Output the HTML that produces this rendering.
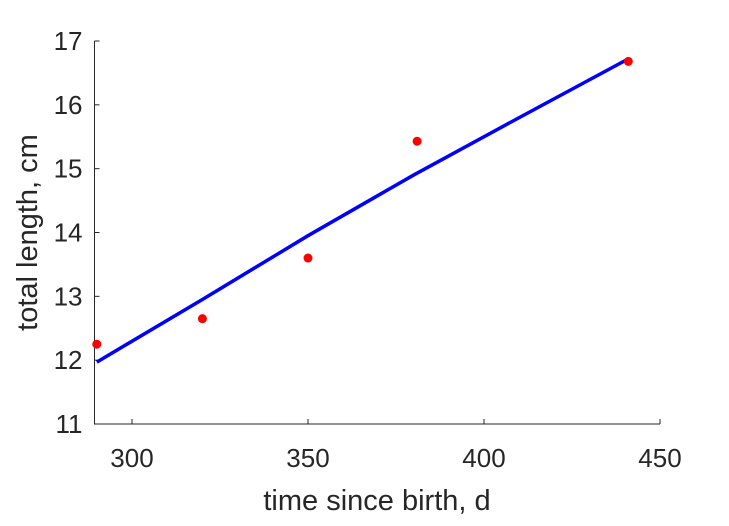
<!DOCTYPE html>
<html><head><meta charset="utf-8"><style>
body{margin:0;background:#fff}
svg text{font-family:"Liberation Sans",sans-serif;fill:#262626}
</style></head><body>
<svg width="729" height="521">
<g id="axes"></g><g id="plot"></g>
</svg>
<script>
const xTicks=[300,350,400,450];
const yTicks=[11,12,13,14,15,16,17];
const dataX=[290,320,350,381,441];
const dataY=[12.25,12.65,13.6,15.43,16.68];
const fitX=[290,320,350,380,410,441];
const fitY=[11.97,12.95,13.95,14.9,15.8,16.72];
const xmin=289.35,xmax=450,ymin=11,ymax=17;
const L=94.5,R=660,B=424,T=41;
const sx=v=>L+(v-xmin)/(xmax-xmin)*(R-L);
const sy=v=>B-(v-ymin)/(ymax-ymin)*(B-T);
const NS='http://www.w3.org/2000/svg';
const ax=document.getElementById('axes'),pl=document.getElementById('plot');
function mk(tag,at,parent){const e=document.createElementNS(NS,tag);for(const k in at)e.setAttribute(k,at[k]);parent.appendChild(e);return e;}
let e=mk('path',{d:`M${L},${T}V${B}H${R}`,stroke:'#262626','stroke-width':1,fill:'none'},ax);


xTicks.forEach(v=>{const x=sx(v);
 let t=mk('line',{x1:x,x2:x,y1:B,y2:B-5,stroke:'#262626'},ax);
 
 
 let l=mk('text',{x:x,y:B+43,'text-anchor':'middle','font-size':26},ax);l.textContent=v;
 
 });
yTicks.forEach(v=>{const y=sy(v);
 let t=mk('line',{x1:L,x2:L+5,y1:y,y2:y,stroke:'#262626'},ax);
 
 
 let l=mk('text',{x:L-12,y:y+9,'text-anchor':'end','font-size':26},ax);l.textContent=v;
 
 });
let xt=mk('text',{x:377,y:510,'text-anchor':'middle','font-size':29},ax);xt.textContent='time since birth, d';


let yt=mk('text',{x:0,y:0,'text-anchor':'middle','font-size':29,transform:`translate(37,${(T+B)/2}) rotate(-90)`},ax);yt.textContent='total length, cm';


let ln=mk('polyline',{points:fitX.map((x,i)=>sx(x)+','+sy(fitY[i])).join(' '),stroke:'#0000ff','stroke-width':3.5,fill:'none'},pl);


dataX.forEach((x,i)=>{let c=mk('circle',{cx:sx(x),cy:sy(dataY[i]),r:4.5,fill:'#ff0000'},pl);
 
 });
</script>
</body></html>
